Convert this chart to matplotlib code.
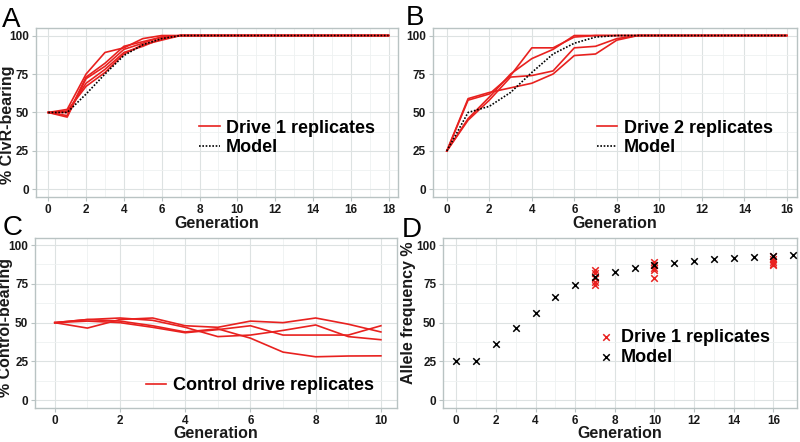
import matplotlib
matplotlib.use('Agg')
import matplotlib.pyplot as plt
import numpy as np

plt.rcParams['font.family'] = ['Liberation Sans', 'DejaVu Sans']

# Panel A: Drive 1 replicates, generations 0..18
gen_a = list(range(19))
drive1_reps = [
    [50, 52, 75, 89, 92, 98, 100, 100, 100, 100, 100, 100, 100, 100, 100, 100, 100, 100, 100],
    [50, 48, 73, 82, 93, 96, 99, 100, 100, 100, 100, 100, 100, 100, 100, 100, 100, 100, 100],
    [50, 47, 72, 80, 91, 95, 99, 100, 100, 100, 100, 100, 100, 100, 100, 100, 100, 100, 100],
    [50, 50, 69, 78, 89, 93, 98, 100, 100, 100, 100, 100, 100, 100, 100, 100, 100, 100, 100],
    [50, 51, 67, 76, 88, 94, 97, 100, 100, 100, 100, 100, 100, 100, 100, 100, 100, 100, 100],
]
model_a = [50, 50, 62, 75, 87, 94, 98, 100, 100, 100, 100, 100, 100, 100, 100, 100, 100, 100, 100]

# Panel B: Drive 2 replicates, generations 0..16
gen_b = list(range(17))
drive2_reps = [
    [25, 58, 62, 74, 92, 92, 99, 100, 100, 100, 100, 100, 100, 100, 100, 100, 100],
    [25, 59, 63, 66, 69, 75, 87, 88, 97, 100, 100, 100, 100, 100, 100, 100, 100],
    [25, 46, 60, 75, 85, 91, 100, 100, 100, 100, 100, 100, 100, 100, 100, 100, 100],
    [25, 45, 58, 73, 74, 77, 92, 93, 98, 100, 100, 100, 100, 100, 100, 100, 100],
]
model_b = [25, 50, 54, 63, 76, 88, 95, 99, 100, 100, 100, 100, 100, 100, 100, 100, 100]

# Panel C: control drive replicates, generations 0..10
gen_c = list(range(11))
control_reps = [
    [50, 52, 51, 48, 44, 46, 40, 31, 28, 28.5, 28.6],
    [50, 46.5, 52, 53, 48, 47, 51, 50, 53, 49, 44],
    [50, 52, 53, 51.5, 47, 41, 42, 45, 48.5, 41, 39],
    [50, 51, 50, 47, 43.5, 45.5, 48, 42, 42, 42, 48],
]

# Panel D: allele frequency
gen_d = list(range(18))
model_d = [25, 25, 36.5, 46.5, 56.5, 66.3, 74, 79.7, 82.7, 85.2, 87.3, 88.6, 89.7, 90.8, 91.6, 92.2, 92.8, 93.4]
rep_gens_d = [7, 10, 16]
rep_vals_d = [
    [84, 82, 79, 76, 74],
    [89, 87, 85, 84, 79],
    [93, 91, 89, 88, 87],
]

red = '#E8211F'
border = '#B9C3C3'


def style(ax, xmax_tick, xstep):
    ax.set_facecolor('white')
    for s in ax.spines.values():
        s.set_color(border)
        s.set_linewidth(1.0)
    ax.set_xticks(np.arange(0, xmax_tick + 1, xstep))
    ax.set_xticks(np.arange(0, xmax_tick + 1, xstep / 2), minor=True)
    ax.set_yticks([0, 25, 50, 75, 100])
    ax.set_yticks([12.5, 37.5, 62.5, 87.5], minor=True)
    ax.grid(True, which='major', color='#DDE2E2', lw=0.8)
    ax.grid(True, which='minor', color='#EEF1F1', lw=0.6)
    ax.set_axisbelow(True)
    ax.tick_params(which='major', length=3, color=border, labelsize=8.5, pad=2)
    ax.tick_params(which='minor', length=0)
    for lab in ax.get_xticklabels() + ax.get_yticklabels():
        lab.set_fontweight('bold')
        lab.set_color('#1a1a1a')
    ax.set_ylim(-5, 104.7)


fig = plt.figure(figsize=(8, 4.42), dpi=100)

axA = fig.add_axes([0.045, 0.554, 0.4525, 0.382])
axB = fig.add_axes([0.541, 0.554, 0.455, 0.382])
axC = fig.add_axes([0.044, 0.077, 0.4525, 0.385])
axD = fig.add_axes([0.554, 0.077, 0.4425, 0.385])

lab_kw = dict(fontsize=11.5, fontweight='bold', color='#1a1a1a')
leg_kw = dict(frameon=False, handlelength=1.15, handletextpad=0.35,
              borderpad=0, labelspacing=0.15, prop={'weight': 'bold', 'size': 13})

# A
for i, r in enumerate(drive1_reps):
    axA.plot(gen_a, r, color=red, lw=1.2, label='Drive 1 replicates' if i == 0 else None)
axA.plot(gen_a, model_a, color='black', lw=1.2, ls=(0, (1, 1)), label='Model')
style(axA, 18, 2)
axA.set_xlim(-0.65, 18.5)
axA.set_xlabel('Generation', labelpad=0, **lab_kw)
axA.set_ylabel('% ClvR-bearing', **lab_kw)
axA.yaxis.set_label_coords(-0.057, 0.43)
axA.legend(loc='center left', bbox_to_anchor=(0.425, 0.35), **leg_kw)

# B
for i, r in enumerate(drive2_reps):
    axB.plot(gen_b, r, color=red, lw=1.2, label='Drive 2 replicates' if i == 0 else None)
axB.plot(gen_b, model_b, color='black', lw=1.2, ls=(0, (1, 1)), label='Model')
style(axB, 16, 2)
axB.set_xlim(-0.66, 16.47)
axB.set_xlabel('Generation', labelpad=0, **lab_kw)
axB.legend(loc='center left', bbox_to_anchor=(0.425, 0.35), **leg_kw)

# C
for i, r in enumerate(control_reps):
    axC.plot(gen_c, r, color=red, lw=1.2, label='Control drive replicates' if i == 0 else None)
style(axC, 10, 2)
axC.set_xlim(-0.6, 10.5)
axC.set_xlabel('Generation', labelpad=-1, **lab_kw)
axC.set_ylabel('% Control-bearing', **lab_kw)
axC.yaxis.set_label_coords(-0.06, 0.47)
axC.legend(loc='center left', bbox_to_anchor=(0.28, 0.13), **leg_kw)

# D
for i, (g, vals) in enumerate(zip(rep_gens_d, rep_vals_d)):
    axD.scatter([g] * len(vals), vals, marker='x', color=red, s=22, lw=1.1,
                label='Drive 1 replicates' if i == 0 else None, zorder=3)
axD.scatter(gen_d, model_d, marker='x', color='black', s=22, lw=1.1, label='Model', zorder=4)
style(axD, 16, 2)
axD.set_xlim(-0.66, 17.2)
axD.set_xlabel('Generation', labelpad=-1, **lab_kw)
axD.set_ylabel('Allele frequency %', **lab_kw)
axD.yaxis.set_label_coords(-0.077, 0.56)
axD.legend(loc='center left', bbox_to_anchor=(0.41, 0.356), handlelength=1.0, handletextpad=0.3,
           borderpad=0, labelspacing=0.15, frameon=False, scatterpoints=1,
           prop={'weight': 'bold', 'size': 13})

# panel letters
letter_kw = dict(fontsize=20, color='black', va='baseline')
fig.text(0.003, 1 - 27 / 442, 'A', **letter_kw)
fig.text(0.507, 1 - 25 / 442, 'B', **letter_kw)
fig.text(0.003, 1 - 235 / 442, 'C', **letter_kw)
fig.text(0.502, 1 - 237 / 442, 'D', **letter_kw)

fig.savefig('out.png', dpi=100)
